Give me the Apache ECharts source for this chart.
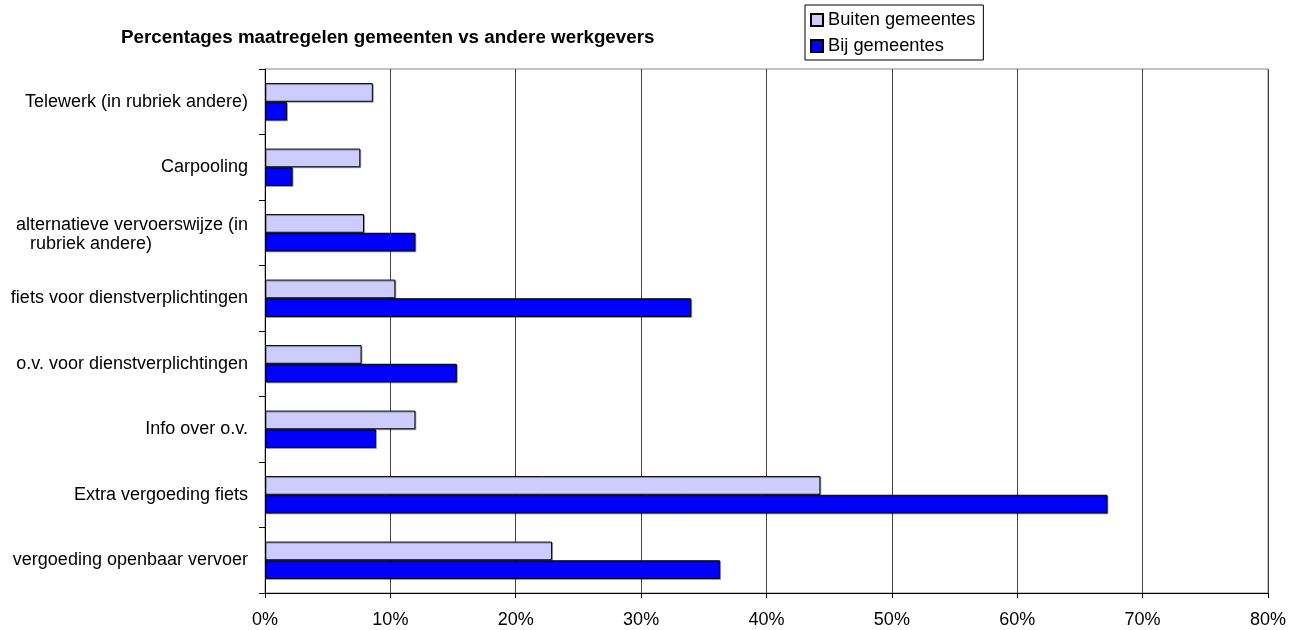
<!DOCTYPE html>
<html><head><meta charset="utf-8">
<script src="https://cdn.jsdelivr.net/npm/echarts@6/dist/echarts.min.js"></script>
<style>html,body{margin:0;padding:0;background:#fff}#c{width:1289px;height:630px}</style>
</head><body><div id="c"></div>
<script>
// categories bottom to top
var categories = [
  'vergoeding openbaar vervoer',
  'Extra vergoeding fiets',
  'Info over o.v.',
  'o.v. voor dienstverplichtingen',
  'fiets voor dienstverplichtingen',
  'alternatieve vervoerswijze (in\nrubriek andere)',
  'Carpooling',
  'Telewerk (in rubriek andere)'
];
var buiten = [22.9, 44.3, 12.0, 7.7, 10.4, 7.9, 7.6, 8.6];
var bij    = [36.3, 67.2, 8.85, 15.3, 34.0, 12.0, 2.2, 1.75];
var xTicks = [0, 10, 20, 30, 40, 50, 60, 70, 80];

var font = 'Liberation Sans, Arial, sans-serif';
var chart = echarts.init(document.getElementById('c'));
chart.setOption({
  animation: false,
  title: {
    text: 'Percentages maatregelen gemeenten vs andere werkgevers',
    left: 116, top: 23,
    textStyle: { fontFamily: font, fontSize: 18.8, fontWeight: 'bold', color: '#000' }
  },
  legend: {
    orient: 'vertical',
    left: 805, top: 5,
    data: ['Buiten gemeentes', 'Bij gemeentes'],
    icon: 'rect',
    itemWidth: 12, itemHeight: 12, itemGap: 8,
    padding: [6, 8, 5, 5],
    borderColor: '#000', borderWidth: 1,
    textStyle: { fontFamily: font, fontSize: 18.3, color: '#000' }
  },
  grid: {
    left: 265, right: 21, top: 69, bottom: 37,
    show: true, borderColor: '#888', borderWidth: 1, backgroundColor: '#fff'
  },
  xAxis: {
    type: 'value', min: 0, max: 80, interval: 10,
    axisLine: { show: true, lineStyle: { color: '#000', width: 1 } },
    axisTick: { show: true, length: 5, lineStyle: { color: '#000' } },
    splitLine: { show: true, lineStyle: { color: '#444', width: 1 } },
    axisLabel: {
      margin: 18,
      fontFamily: font, fontSize: 18, color: '#000',
      formatter: function (v) { return xTicks.indexOf(v) >= 0 ? v + '%' : ''; }
    }
  },
  yAxis: {
    type: 'category', data: categories,
    axisLine: { show: true, lineStyle: { color: '#000', width: 1 } },
    axisTick: { show: true, length: 6, lineStyle: { color: '#000' } },
    axisLabel: {
      margin: 17, fontFamily: font, fontSize: 18, color: '#000', lineHeight: 20,
      formatter: function (v) {
        if (v.indexOf('\n') >= 0) {
          var p = v.split('\n');
          return '{a|' + p[0] + '}\n{b|' + p[1] + '}';
        }
        return v;
      },
      rich: {
        a: { fontFamily: font, fontSize: 18, color: '#000', lineHeight: 20, align: 'right', padding: [4, 0, 0, 0] },
        b: { fontFamily: font, fontSize: 18, color: '#000', lineHeight: 20, align: 'right', padding: [3, 96, 0, 0] }
      }
    }
  },
  series: [
    {
      name: 'Buiten gemeentes', type: 'bar', data: buiten,
      barCategoryGap: '43%', barGap: '0%',
      itemStyle: { color: '#CCCCFF', borderColor: '#000', borderWidth: 1,
        shadowColor: 'rgba(0,0,0,0.3)', shadowOffsetX: 1, shadowOffsetY: 1, shadowBlur: 0 }
    },
    {
      name: 'Bij gemeentes', type: 'bar', data: bij,
      barCategoryGap: '43%', barGap: '0%',
      itemStyle: { color: '#0000FF', borderColor: '#000', borderWidth: 1,
        shadowColor: 'rgba(0,0,0,0.3)', shadowOffsetX: 1, shadowOffsetY: 1, shadowBlur: 0 }
    }
  ]
});
</script></body></html>
